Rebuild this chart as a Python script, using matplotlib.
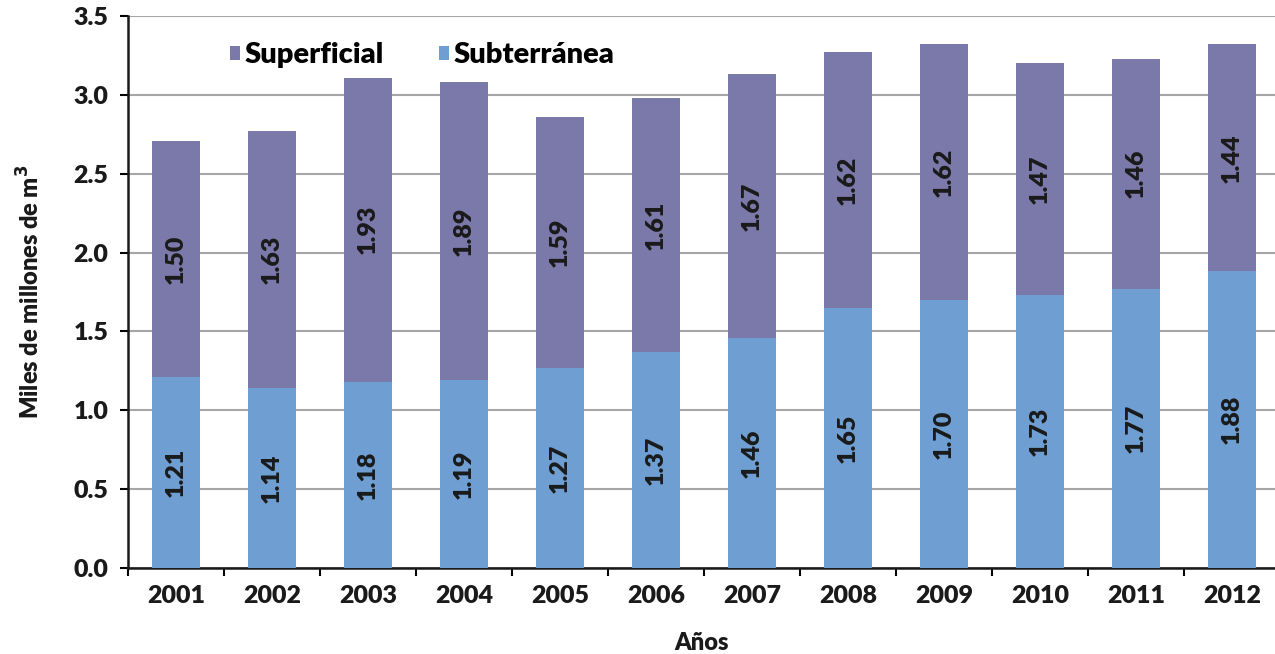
import matplotlib
matplotlib.use("Agg")
import matplotlib.pyplot as plt
import numpy as np

years = ["2001", "2002", "2003", "2004", "2005", "2006", "2007", "2008", "2009", "2010", "2011", "2012"]
subterranea = [1.21, 1.14, 1.18, 1.19, 1.27, 1.37, 1.46, 1.65, 1.70, 1.73, 1.77, 1.88]
superficial = [1.50, 1.63, 1.93, 1.89, 1.59, 1.61, 1.67, 1.62, 1.62, 1.47, 1.46, 1.44]

plt.rcParams['font.family'] = ['Lato', 'DejaVu Sans']
c_sup = "#7b78aa"
c_sub = "#6f9fd2"
W = 'heavy'

fig = plt.figure(figsize=(12.75, 6.54), dpi=100)
ax = fig.add_axes([128/1275, 1-568/654, 1-128/1275, (568-16)/654])

x = np.arange(len(years))
w = 0.5
b1 = ax.bar(x, subterranea, w, color=c_sub, label="Subterránea", zorder=3)
b2 = ax.bar(x, superficial, w, bottom=subterranea, color=c_sup, label="Superficial", zorder=3)

for i in range(len(years)):
    ax.text(x[i], subterranea[i]/2, f"{subterranea[i]:.2f}", rotation=90, ha='center', va='center',
            fontsize=18, fontweight=W, color='#1a1a1a', zorder=4)
    ax.text(x[i], subterranea[i] + superficial[i]/2, f"{superficial[i]:.2f}", rotation=90, ha='center', va='center',
            fontsize=18, fontweight=W, color='#1a1a1a', zorder=4)

ax.set_ylim(0, 3.5)
ax.set_xlim(-0.5, 11.45)
ax.set_yticks(np.arange(0, 3.51, 0.5))
ax.set_yticklabels([f"{v:.1f}" for v in np.arange(0, 3.51, 0.5)], fontsize=18, fontweight=W, color='#1a1a1a')
ax.set_xticks(x)
ax.set_xticklabels(years, fontsize=18, fontweight=W, color='#1a1a1a')
ax.set_xticks(np.arange(-0.5, 11.5, 1), minor=True)
ax.tick_params(axis='x', which='major', length=0, pad=12)
ax.tick_params(axis='x', which='minor', length=6, width=1.5, direction='out')
ax.tick_params(axis='y', length=6, width=1.5, direction='out', pad=8)

ax.grid(axis='y', color='#a6a6a6', linewidth=1.5, zorder=0)
for s in ['top', 'right']:
    ax.spines[s].set_visible(False)
for s in ['left', 'bottom']:
    ax.spines[s].set_linewidth(1.8)
    ax.spines[s].set_color('#1a1a1a')

ax.set_ylabel("Miles de millones de m$^\\mathbf{3}$", fontsize=17, fontweight=W, labelpad=22, color='#1a1a1a')
ax.set_xlabel("Años", fontsize=17, fontweight=W, labelpad=18, color='#1a1a1a')

handles = [b2, b1]
leg = ax.legend(handles, ["Superficial", "Subterránea"], loc='upper left', bbox_to_anchor=(0.066, 1.0),
                ncol=2, frameon=False, prop={'size': 21, 'weight': W},
                handlelength=0.35, handleheight=0.35, handletextpad=0.15, columnspacing=1.9)

fig.savefig("out.png", dpi=100)
